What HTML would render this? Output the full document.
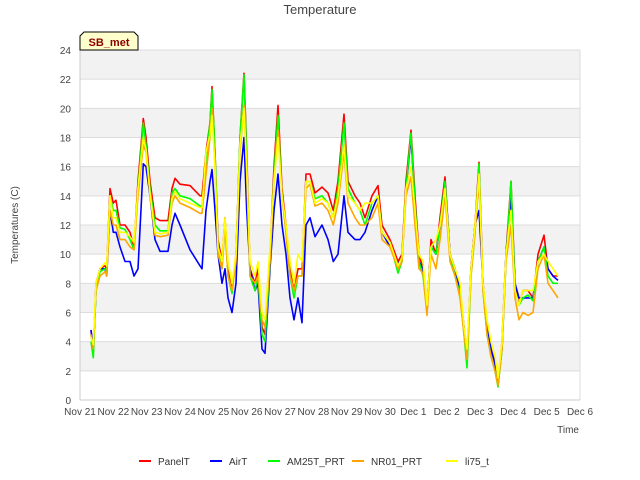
<!DOCTYPE html>
<html><head><meta charset="utf-8"><style>
body{margin:0;background:#fff;}
svg{display:block;font-family:"Liberation Sans","DejaVu Sans",sans-serif;}
</style></head><body>
<svg id="chart" width="640" height="480" viewBox="0 0 640 480">
<text x="320" y="14" text-anchor="middle" font-size="13" fill="#444">Temperature</text>
<g id="bands"></g>
<g id="grid"></g>
<g id="yticks"></g>
<g id="xticks"></g>
<g id="series"></g>
<text x="579" y="433" text-anchor="end" font-size="10" fill="#444">Time</text>
<text transform="translate(18,225) rotate(-90)" text-anchor="middle" font-size="10" fill="#444">Temperatures (C)</text>
<g>
<path d="M80,50 L80,36 L84,32 L134,32 L138,36 L138,50 Z" fill="#ffffcc" stroke="#000" stroke-width="1"/>
<text x="109" y="46" text-anchor="middle" font-size="11" font-weight="bold" fill="#8b0000">SB_met</text>
</g>
<g id="legend"></g>
</svg>
<script>
const times=[0.33,0.4,0.48,0.6,0.75,0.8,0.9,1.0,1.08,1.2,
1.35,1.5,1.62,1.74,1.9,1.98,2.1,2.25,2.4,2.64,
2.76,2.85,3.0,3.3,3.6,3.66,3.78,3.9,3.96,4.05,
4.14,4.26,4.35,4.44,4.56,4.68,4.8,4.92,5.0,5.1,
5.25,5.34,5.46,5.55,5.7,5.82,5.94,6.06,6.18,6.3,
6.42,6.54,6.66,6.78,6.9,7.05,7.26,7.44,7.6,7.74,
7.92,8.04,8.25,8.4,8.55,8.76,8.94,9.06,9.3,9.54,
9.66,9.78,9.93,10.05,10.17,10.29,10.41,10.53,10.68,10.8,
10.95,11.1,11.25,11.4,11.52,11.61,11.73,11.85,11.97,12.09,
12.21,12.33,12.45,12.54,12.66,12.78,12.93,13.05,13.17,13.29,
13.44,13.59,13.74,13.92,14.04,14.19,14.34];
const panelT=[4.8,3.2,8,9,9.2,9,14.5,13.5,13.7,12,
12,11.5,10.5,15,19.3,18,15,12.5,12.3,12.3,
14.5,15.2,14.8,14.7,14,14,17,19,21.5,17,
11,9.5,12.5,9,7.5,10,18,22.4,17,9,
8,9,5,4.5,10,16,20.2,14.5,12,9,
7.5,9,9,15.5,15.5,14.2,14.6,14.2,13,15,
19.6,15,14,13.5,12.5,14,14.7,12,11,9.5,
10,15,18.5,14,10,9,6,11,10,12.5,
15.3,10,9,7.5,5,2.5,9,12,16.3,8,
5,3.5,2.5,1.0,4,10,15,8,6.5,7.5,
7.5,7,10,11.3,9,8.5,8.5];
const airT=[4.8,3.5,7.5,9,9,8.5,13,11.5,11.5,10.5,
9.5,9.5,8.5,9,16.2,16,14,11,10.2,10.2,
12,12.8,12,10.3,9.2,9,13,15,15.8,13,
10,8,9,7,6,8,15,18,13,9,
7.5,8,3.5,3.2,9,13,15.5,12,10,7,
5.5,7,5.3,12,12.5,11.2,12,11,9.5,10,
14,11.5,11,11,11.5,13,14,11.5,10.5,9.3,
9.8,14.5,18,13.5,9.5,9,6.5,10.5,10,12,
15,10,9,7.5,5,3,9,12,13,8,
5,3.5,2.5,1.0,3.5,10,14,8,7,7,
7,7,9.5,10.5,9,8.5,8.2];
const am25t=[4,2.9,7.5,8.8,9,8.8,14,13,13,11.8,
11.7,11,10.3,14.5,19,17.5,14.5,12,11.6,11.6,
14.2,14.5,14,13.8,13.3,13.3,16.5,19,21.3,17,
10.5,9,12,8.5,7.3,9.8,18,22.3,16.5,8.5,
7.5,8.5,4.5,4,9.5,15.5,19.5,14,11.5,8.5,
7,8.5,8.5,15,15,13.8,14,13.5,12.5,14.5,
19,14.5,13.5,13,12,13.5,14,11.5,10.8,8.7,
9.5,14.5,18.3,13.5,9.5,8.5,6,10.5,10,12,
15,9.8,8.5,7.3,4.5,2.2,8.5,11.5,16.2,7.5,
4.5,3,2,0.9,3.5,9.5,15,7.5,6.5,7,
7.2,6.8,9.5,10.5,8.5,8,8];
const nr01=[4.5,3.5,7.5,8.5,8.8,8.5,13,12,12,11,
11,10.5,10.3,14,17.5,17,14,11.3,11.2,11.3,
13.5,14,13.5,13.2,12.8,12.8,15.5,18,20,16,
10,9,12,8.5,7.5,9.5,17,20.2,15.5,8.5,
8,8.5,5.5,5,9.5,15,18.5,14,11.5,8.5,
7.5,8.5,8.5,14.5,14.8,13.3,13.5,13,12,13.5,
17,13.5,12.5,12,12,12.5,13.5,11,10.5,9,
9.5,14,15.3,12,9,8.7,5.8,10,9,11,
14,9.5,8.5,7,4.5,2.8,8.5,11.5,15,7.5,
4.5,3,2,1.0,3.5,9.5,12,7,5.5,6,
5.8,6,9,10,8,7.5,7];
const li75=[4.3,3.8,8,9,9.4,9.2,14,12.5,12.5,11.5,
11.5,11.2,10.8,14.5,18,17.2,14.2,11.5,11.4,11.5,
13.8,14.3,13.8,13.5,13.2,13.2,17,18.2,19.5,16,
10.5,9.5,12.5,9.5,8,10,17.5,20,16,9.5,
8.5,9.5,6,5.5,10.5,15,18,14,12,9.5,
8,10,9.5,15,15,13.5,13.8,13.5,12.5,14,
17.5,14,13.5,13,13.5,13.5,14,11.5,10.8,9.2,
9.8,14.5,16,13,10,9.5,6.5,10.5,11,12,
14.5,10,9,8,5,3.5,9,12,15.5,8,
5.5,4,3,1.5,4,10,13,7.5,6.5,7.5,
7.5,7.5,9.5,10,9.5,9,8.5];
const xLabels=["Nov 21","Nov 22","Nov 23","Nov 24","Nov 25","Nov 26","Nov 27","Nov 28","Nov 29","Nov 30","Dec 1","Dec 2","Dec 3","Dec 4","Dec 5","Dec 6"];
const yTicks=[0,2,4,6,8,10,12,14,16,18,20,22,24];
const seriesNames=["PanelT","AirT","AM25T_PRT","NR01_PRT","li75_t"];
const seriesColors=["#ff0000","#0000ff","#00ff00","#ffa500","#ffff00"];
const seriesData=[panelT,airT,am25t,nr01,li75];

const NS="http://www.w3.org/2000/svg";
const X0=80,X1=580,Y0=400,Y1=50,YMAX=24,DAYS=15;
const xs=d=>X0+(d/DAYS)*(X1-X0);
const ys=v=>Y0-(v/YMAX)*(Y0-Y1);
function mk(tag,attrs,parent){const e=document.createElementNS(NS,tag);for(const k in attrs)e.setAttribute(k,attrs[k]);parent.appendChild(e);return e;}
const bands=document.getElementById('bands'),grid=document.getElementById('grid'),yt=document.getElementById('yticks'),xt=document.getElementById('xticks'),ser=document.getElementById('series'),leg=document.getElementById('legend');
mk('rect',{x:X0,y:Y1,width:X1-X0,height:Y0-Y1,fill:'#fff'},bands);
for(let v=2;v<YMAX;v+=4){const r=mk('rect',{x:X0,y:ys(v+2),width:X1-X0,height:ys(v)-ys(v+2),fill:'#f2f2f2'},bands);

}
yTicks.forEach(v=>{
const l=mk('line',{x1:X0,x2:X1,y1:ys(v),y2:ys(v),stroke:'#dcdcdc','stroke-width':1},grid);


const t=mk('text',{x:X0-9,y:ys(v)+4,'text-anchor':'end','font-size':10,fill:'#444'},yt);
t.textContent=v;


});
mk('line',{x1:X0,x2:X0,y1:Y1,y2:Y0,stroke:'#ccc'},grid);
mk('line',{x1:X1,x2:X1,y1:Y1,y2:Y0,stroke:'#dcdcdc'},grid);
mk('line',{x1:X0,x2:X1,y1:Y0,y2:Y0,stroke:'#ccc'},grid);
xLabels.forEach((s,i)=>{
const t=mk('text',{x:xs(i),y:415,'text-anchor':'middle','font-size':10,fill:'#444'},xt);
t.textContent=s;


});
seriesData.forEach((arr,si)=>{
const d=arr.map((v,i)=>(i?'L':'M')+xs(times[i]).toFixed(1)+','+ys(v).toFixed(1)).join(' ');
const p=mk('path',{d:d,fill:'none',stroke:seriesColors[si],'stroke-width':1.6,'stroke-linejoin':'round'},ser);


});
const legX=[139,210,268,352,446];
seriesNames.forEach((n,i)=>{
const g=mk('g',{},leg);


mk('line',{x1:legX[i],x2:legX[i]+12,y1:461,y2:461,stroke:seriesColors[i],'stroke-width':2},g);
const t=mk('text',{x:legX[i]+19,y:465,'font-size':10,fill:'#333'},g);
t.textContent=n;
});
</script>
</body></html>
